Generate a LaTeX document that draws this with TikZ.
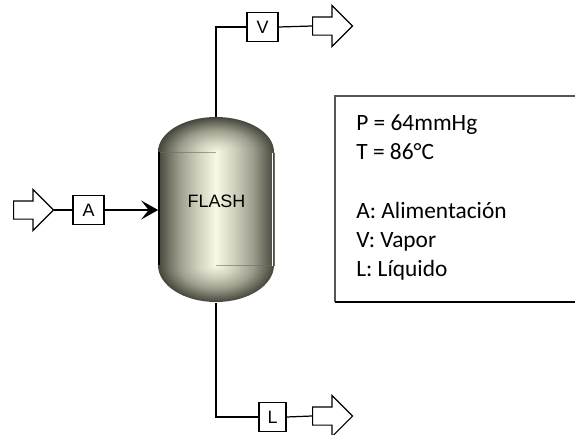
\documentclass[tikz,border=0pt]{standalone}
\usepackage{fontspec}
\setmainfont{Carlito}
\newfontfamily\labelfont{Liberation Sans}
\usetikzlibrary{positioning,arrows.meta,shapes.arrows}

\definecolor{seamgray}{HTML}{6E6E60}
\definecolor{framegray}{HTML}{555555}
\definecolor{steelone}{HTML}{45453A}
\definecolor{steeltwo}{HTML}{626256}
\definecolor{steelthree}{HTML}{9C9C8C}
\definecolor{steelfour}{HTML}{CFCFBC}
\definecolor{steelfive}{HTML}{F8F8E4}
\pgfdeclarehorizontalshading{vesselbody}{100bp}{
    color(0bp)=(steelone);
    color(25bp)=(steelone);
    color(28bp)=(steeltwo);
    color(34bp)=(steelthree);
    color(42bp)=(steelfour);
    color(50bp)=(steelfive);
    color(58bp)=(steelfour);
    color(66bp)=(steelthree);
    color(72bp)=(steeltwo);
    color(75bp)=(steelone);
    color(100bp)=(steelone)}
\pgfdeclareradialshading{vesselcap}{\pgfpoint{0bp}{0bp}}{
    color(0bp)=(steelfive);
    color(8bp)=(steelfour);
    color(16bp)=(steelthree);
    color(22bp)=(steeltwo);
    color(25bp)=(steelone);
    color(50bp)=(steelone)}

\tikzset{
    vessel/.style={minimum width=23mm, minimum height=37mm, inner sep=0pt},
    streambox/.style={draw, line width=0.7pt, minimum width=6.2mm, minimum height=5.8mm, inner sep=0pt, font=\labelfont\fontsize{10.2}{12}\selectfont},
    streamend/.style={single arrow, draw, line width=0.7pt, anchor=tail, inner xsep=0pt, inner ysep=1.7mm, minimum height=8mm, single arrow head extend=2.3mm, single arrow tip angle=90},
    pipe/.style={line width=0.7pt},
    infotext/.style={anchor=north west, align=left, inner sep=0pt, font=\fontsize{13.3}{16.7}\selectfont}
}

\begin{document}
\begin{tikzpicture}[x=0.2mm, y=-0.2mm]
    \useasboundingbox (0,0) rectangle (575,435);

    % vessel
    \begin{scope}
        \clip (150,110) rectangle (280,152);
        \shade[shading=vesselcap] (216,152) ellipse [x radius=58, y radius=35];
    \end{scope}
    \begin{scope}
        \clip (150,265) rectangle (280,310);
        \shade[shading=vesselcap] (216,265) ellipse [x radius=58, y radius=37];
    \end{scope}
    \shade[shading=vesselbody] (158,152) rectangle (274,265);
    \draw[seamgray, opacity=0.6, very thin] (160,152) -- (216,152);
    \draw[seamgray, opacity=0.6, very thin] (216,265) -- (272,265);
    \draw[black, line width=1.1pt] (159,152) -- (159,265);
    \draw[white, line width=0.9pt] (272.5,153) -- (272.5,266);
    \draw[seamgray, very thin] (274,153) -- (274,266);

    \node[vessel] (flash) at (216,210) {};
    \node[font=\labelfont\fontsize{10.2}{12}\selectfont, inner sep=0pt] (flashlabel) at (216.5,201) {FLASH};

    % streams
    \node[streamend] (feed) at (13,210) {};
    \node[streambox] (boxa) at (88.5,210) {A};
    \node[streambox] (boxv) at (262.5,27) {V};
    \node[streamend] (vapor) at (312,26) {};
    \node[streambox, minimum width=5.4mm] (boxl) at (272.5,417) {L};
    \node[streamend] (liquid) at (312,416) {};

    \draw[pipe] (feed.tip) -- (boxa.west);
    \draw[pipe, -{Stealth[length=3.4mm, width=3.8mm, inset=1.5mm]}] (boxa.east) -- (flash.west);
    \draw[pipe] (flash.north) |- (boxv.west);
    \draw[pipe] (boxv.east) -- (vapor.tail);
    \draw[pipe] (flash.south) |- (boxl.west);
    \draw[pipe] (boxl.east) -- (liquid.tail);

    % data box
    \draw[framegray, line width=0.8pt] (575,96) -- (335,96) -- (335,302);
    \draw[black, line width=0.8pt] (335,302) -- (575,302);
    \node[infotext] (info) at (356,114) {P = 64mmHg\\T = 86°C\\[16.7pt]A: Alimentación\\V: Vapor\\L: Líquido};
\end{tikzpicture}
\end{document}
